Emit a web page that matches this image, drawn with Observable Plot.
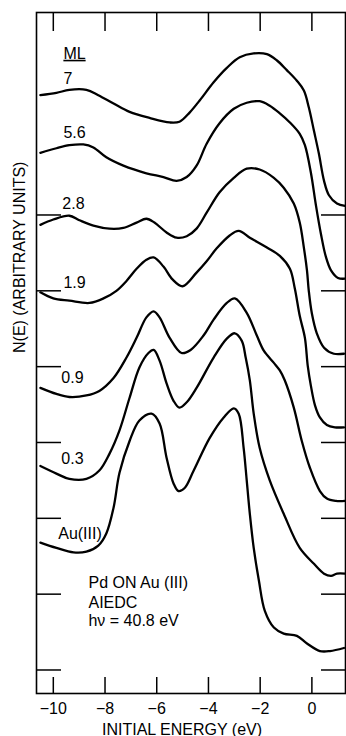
<!DOCTYPE html>
<html>
<head>
<meta charset="utf-8">
<script src="https://cdn.jsdelivr.net/npm/d3@7"></script>
<script src="https://cdn.jsdelivr.net/npm/@observablehq/plot@0.6"></script>
<style>
  html, body { margin: 0; padding: 0; background: #fff; }
</style>
</head>
<body>
<div id="chart"></div>
<script>
// Coverage labels (ML) for each curve, top to bottom
const series = ["7", "5.6", "2.8", "1.9", "0.9", "0.3", "Au(III)"];

// Initial energy (eV) and N(E) (arbitrary units)
const e7 = [-10.50,-9.88,-9.38,-8.72,-8.26,-7.67,-7.05,-6.28,-5.50,-5.12,-4.73,-4.34,-3.80,-3.29,-2.79,-2.25,-1.74,-1.36,-0.97,-0.58,-0.31,-0.12,0.08,0.27,0.47,0.66,0.97,1.28];
const n7 = [8.58,8.61,8.65,8.65,8.58,8.47,8.36,8.28,8.22,8.23,8.35,8.51,8.75,8.94,9.08,9.13,9.12,9.04,8.91,8.77,8.64,8.42,8.11,7.81,7.45,7.26,7.15,7.12];

const e56 = [-10.50,-9.88,-9.38,-8.84,-8.45,-7.95,-7.29,-6.40,-5.74,-5.23,-4.84,-4.46,-4.07,-3.57,-3.02,-2.52,-2.02,-1.63,-1.24,-0.85,-0.47,-0.27,-0.04,0.16,0.35,0.54,0.74,1.01,1.28];
const n56 = [7.82,7.88,7.92,7.93,7.89,7.76,7.65,7.55,7.50,7.45,7.50,7.65,7.94,8.21,8.40,8.48,8.50,8.44,8.34,8.22,8.07,7.92,7.56,7.12,6.75,6.45,6.27,6.17,6.16];

const e28 = [-10.50,-10.00,-9.38,-8.99,-8.45,-7.83,-7.29,-6.78,-6.40,-6.09,-5.62,-5.23,-4.84,-4.46,-4.07,-3.57,-3.02,-2.52,-2.02,-1.47,-1.09,-0.70,-0.47,-0.31,-0.19,-0.12,0.00,0.19,0.47,0.85,1.24];
const n28 = [6.87,6.94,6.99,6.93,6.86,6.82,6.83,6.90,6.95,6.90,6.77,6.70,6.72,6.82,7.03,7.30,7.49,7.61,7.60,7.49,7.36,7.15,6.90,6.57,6.27,6.00,5.70,5.44,5.25,5.17,5.17];

const e19 = [-10.50,-10.00,-9.38,-8.60,-8.06,-7.56,-7.17,-6.78,-6.40,-6.12,-5.74,-5.39,-5.00,-4.46,-4.07,-3.68,-3.18,-2.83,-2.40,-1.74,-1.24,-0.85,-0.66,-0.47,-0.27,-0.16,-0.04,0.12,0.31,0.58,0.89,1.24];
const n19 = [5.98,5.90,5.87,5.84,5.90,6.00,6.13,6.29,6.41,6.44,6.32,6.15,6.06,6.24,6.39,6.56,6.73,6.79,6.70,6.57,6.46,6.29,6.03,5.67,5.38,5.01,4.75,4.49,4.33,4.23,4.20,4.20];

const e09 = [-10.50,-9.88,-9.38,-8.72,-8.22,-7.67,-7.17,-6.78,-6.40,-6.12,-5.89,-5.50,-5.04,-4.69,-4.19,-3.80,-3.29,-2.98,-2.52,-2.13,-1.86,-1.47,-1.24,-1.05,-0.70,-0.39,-0.08,0.31,0.58,0.93,1.28];
const n09 = [4.72,4.64,4.60,4.62,4.68,4.85,5.12,5.38,5.65,5.73,5.65,5.38,5.18,5.22,5.41,5.62,5.84,5.90,5.71,5.41,5.21,5.05,4.95,4.82,4.46,4.02,3.67,3.36,3.26,3.23,3.23];

const e03 = [-10.50,-9.88,-9.38,-8.72,-8.22,-7.83,-7.44,-7.05,-6.67,-6.32,-6.12,-5.89,-5.62,-5.35,-5.12,-4.84,-4.46,-3.80,-3.29,-2.98,-2.71,-2.56,-2.40,-2.25,-2.02,-1.63,-1.09,-0.47,0.08,0.47,0.74,0.97,1.28];
const n03 = [3.69,3.59,3.52,3.52,3.63,3.85,4.16,4.59,4.99,5.18,5.22,5.08,4.78,4.55,4.46,4.53,4.72,5.12,5.37,5.44,5.34,5.12,4.82,4.38,3.93,3.50,3.06,2.61,2.40,2.27,2.24,2.27,2.27];

const eAu = [-10.50,-9.88,-9.22,-8.72,-8.26,-7.95,-7.67,-7.44,-7.05,-6.67,-6.20,-5.89,-5.62,-5.35,-5.16,-4.92,-4.57,-3.95,-3.41,-3.02,-2.83,-2.64,-2.52,-2.40,-2.25,-2.05,-1.82,-1.47,-1.09,-0.58,-0.19,0.31,0.70,1.24];
const nAu = [2.68,2.61,2.55,2.56,2.64,2.80,3.14,3.60,4.02,4.29,4.38,4.25,3.80,3.46,3.36,3.40,3.63,4.06,4.33,4.45,4.38,3.93,3.50,3.06,2.61,2.18,1.78,1.56,1.48,1.45,1.35,1.25,1.25,1.29];

// Axis ticks
const xTicks = [-10, -8, -6, -4, -2, 0];
const yTicks = [1, 2, 3, 4, 5, 6, 7];

// Curve labels (text, energy, N at baseline)
const labelText = ["ML", "7", "5.6", "2.8", "1.9", "0.9", "0.3", "Au(III)"];
const labelE    = [-9.61, -9.61, -9.61, -9.65, -9.61, -9.69, -9.69, -9.81];
const labelN    = [9.06, 8.73, 8.01, 7.08, 6.04, 4.78, 3.72, 2.73];

// Annotation block
const noteText = ["Pd ON Au (III)", "AIEDC", "hν = 40.8 eV"];
const noteE    = [-8.64, -8.64, -8.64];
const noteN    = [2.08, 1.82, 1.58];

const xTitle = "INITIAL ENERGY (eV)";
const yTitle = "N(E) (ARBITRARY UNITS)";

// Build long table
const curveE = [e7, e56, e28, e19, e09, e03, eAu];
const curveN = [n7, n56, n28, n19, n09, n03, nAu];
const rows = [];
series.forEach((s, i) => curveE[i].forEach((e, j) => rows.push({series: s, E: e, N: curveN[i][j]})));
const labels = labelText.map((t, i) => ({t, E: labelE[i], N: labelN[i]}));
const notes = noteText.map((t, i) => ({t, E: noteE[i], N: noteN[i]}));

const fmt = d3.format("d");

const chart = Plot.plot({
  width: 346,
  height: 736,
  marginTop: 12,
  marginBottom: 43,
  marginLeft: 36,
  marginRight: 1,
  style: {fontFamily: "'Liberation Sans', Arial, sans-serif", fontSize: "16px", background: "#fff", color: "#000"},
  x: {domain: [-10.65, 1.3]},
  y: {domain: [0.69, 9.67]},
  marks: [
    Plot.frame({stroke: "#000", strokeWidth: 1.6}),
    Plot.axisX(xTicks, {anchor: "top", tickSize: -18, tickFormat: () => "", label: null, strokeWidth: 1.5}),
    Plot.axisX(xTicks, {anchor: "bottom", tickSize: -16, tickFormat: () => "", label: null, strokeWidth: 1.5}),
    Plot.axisX(xTicks, {anchor: "bottom", tickSize: 0, tickPadding: 9, tickFormat: fmt, label: null, fontSize: 16}),
    Plot.axisY(yTicks, {anchor: "left", tickSize: -25, tickFormat: () => "", label: null, strokeWidth: 1.5}),
    Plot.axisY(yTicks, {anchor: "right", tickSize: -25, tickFormat: () => "", label: null, strokeWidth: 1.5}),
    Plot.line(rows, {x: "E", y: "N", z: "series", curve: "catmull-rom", stroke: "#000", strokeWidth: 2.3}),
    Plot.text(labels, {x: "E", y: "N", text: "t", textAnchor: "start", lineAnchor: "bottom", fontSize: 16, fill: "#000"}),
    Plot.text(notes, {x: "E", y: "N", text: "t", textAnchor: "start", lineAnchor: "bottom", fontSize: 16, fill: "#000"}),
    Plot.text([xTitle], {text: d => d, frameAnchor: "bottom", dy: 41, dx: -9, lineAnchor: "bottom", fontSize: 16, fill: "#000"}),
    Plot.text([yTitle], {text: d => d, frameAnchor: "left", dx: -17, rotate: -90, fontSize: 16, fill: "#000"})
  ]
});

// Underline the "ML" heading
chart.querySelectorAll("text").forEach(t => {
  if (t.textContent === "ML") t.setAttribute("text-decoration", "underline");
});

document.getElementById("chart").appendChild(chart);
</script>
</body>
</html>
